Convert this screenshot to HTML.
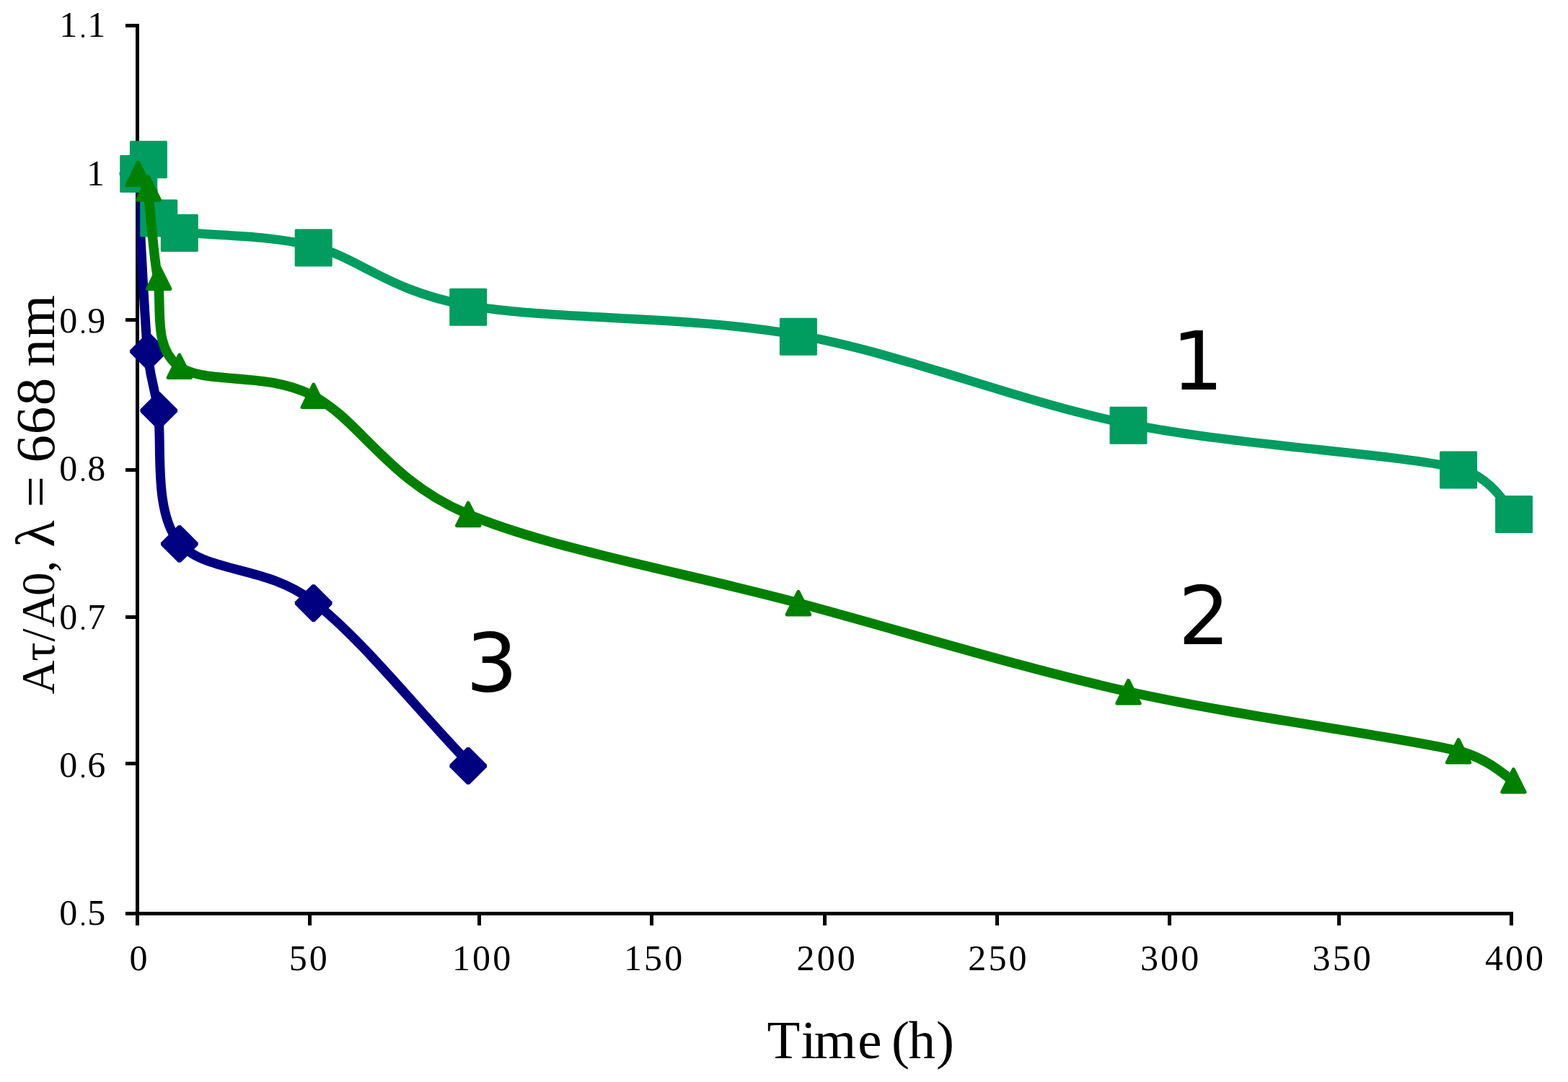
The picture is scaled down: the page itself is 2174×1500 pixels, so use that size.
<!DOCTYPE html>
<html lang="en"><head><meta charset="utf-8"><title>Aτ/A0 (λ = 668 nm) vs. Time (h)</title>
<style>html,body{margin:0;padding:0;background:#fff}body{width:2174px;height:1500px;overflow:hidden}svg{display:block}.t{font-family:"Liberation Serif","DejaVu Serif",serif;fill:#000}.n{font-family:"DejaVu Sans","Liberation Sans",sans-serif;fill:#000}</style></head><body>
<svg width="2174" height="1500" viewBox="0 0 2174 1500" role="img" aria-label="Line chart of Aτ/A0 at 668 nm versus time in hours for three samples">
<rect width="2174" height="1500" fill="#fff"/>
<g fill="#000" shape-rendering="crispEdges">
<rect x="188.0" y="33.0" width="5" height="1236.0"/>
<rect x="188.0" y="1264.0" width="1910.0" height="5"/>
<rect x="174" y="33.0" width="16" height="5"/>
<rect x="174" y="238.0" width="16" height="5"/>
<rect x="174" y="441.0" width="16" height="5"/>
<rect x="174" y="649.0" width="16" height="5"/>
<rect x="174" y="852.5" width="16" height="5"/>
<rect x="174" y="1056.0" width="16" height="5"/>
<rect x="174" y="1264.0" width="16" height="5"/>
<rect x="188.0" y="1266" width="5" height="17"/>
<rect x="426.8" y="1266" width="5" height="17"/>
<rect x="662.1" y="1266" width="5" height="17"/>
<rect x="901.0" y="1266" width="5" height="17"/>
<rect x="1141.1" y="1266" width="5" height="17"/>
<rect x="1380.0" y="1266" width="5" height="17"/>
<rect x="1619.1" y="1266" width="5" height="17"/>
<rect x="1853.9" y="1266" width="5" height="17"/>
<rect x="2093.0" y="1266" width="5" height="17"/>
</g>
<g class="t" font-size="50">
<text y="51.0"><tspan x="82.2">1</tspan><tspan x="110.5" dy="1.1" font-size="36">.</tspan><tspan x="121.2" dy="-1.1">1</tspan></text>
<text x="120" y="257.0">1</text>
<text y="461.3"><tspan x="82.2">0</tspan><tspan x="110.5" dy="1.1" font-size="36">.</tspan><tspan x="121.2" dy="-1.1">9</tspan></text>
<text y="666.3"><tspan x="82.2">0</tspan><tspan x="110.5" dy="1.1" font-size="36">.</tspan><tspan x="121.2" dy="-1.1">8</tspan></text>
<text y="872.3"><tspan x="82.2">0</tspan><tspan x="110.5" dy="1.1" font-size="36">.</tspan><tspan x="121.2" dy="-1.1">7</tspan></text>
<text y="1077.3"><tspan x="82.2">0</tspan><tspan x="110.5" dy="1.1" font-size="36">.</tspan><tspan x="121.2" dy="-1.1">6</tspan></text>
<text y="1282.3"><tspan x="82.2">0</tspan><tspan x="110.5" dy="1.1" font-size="36">.</tspan><tspan x="121.2" dy="-1.1">5</tspan></text>
<text x="179.5" y="1345.3" letter-spacing="3.1">0</text>
<text x="400.7" y="1345.3" letter-spacing="3.1">50</text>
<text x="627.0" y="1345.3" letter-spacing="3.1">100</text>
<text x="865.0" y="1345.3" letter-spacing="3.1">150</text>
<text x="1104.6" y="1345.3" letter-spacing="3.1">200</text>
<text x="1342.3" y="1345.3" letter-spacing="3.1">250</text>
<text x="1581.0" y="1345.3" letter-spacing="3.1">300</text>
<text x="1819.6" y="1345.3" letter-spacing="3.1">350</text>
<text x="2058.9" y="1345.3" letter-spacing="3.1">400</text>
</g>
<text class="t" x="1063.6 1110.8 1128.8 1189.3 1222 1236 1259.5 1298" y="1467" font-size="75">Time (h)</text>
<text class="t" transform="translate(75.2 965) rotate(-90)" font-size="77"><tspan font-size="65" x="2.4 48.2 75.6 95.3 138.9 171.7 188">Aτ/A0, </tspan><tspan x="206.3 245 261.6 305 323.6 362.7 402.8 441 456.5 496">λ = 668 nm</tspan></text>
<svg x="189.8" y="33" width="1912" height="1236" viewBox="189.8 33 1912 1236" overflow="hidden"><path d="M190.10 238.00 C194.87 320.08 199.63 429.52 204.40 484.24 C208.02 525.74 212.09 525.19 218.70 566.32 C225.85 610.78 211.55 706.54 247.30 751.00 C283.06 795.46 366.20 782.05 433.22 833.08 C500.24 884.11 577.36 982.49 649.43 1057.20" fill="none" stroke="#000080" stroke-width="13.0" stroke-linejoin="round" stroke-linecap="butt"/></svg>
<g fill="#000080">
<path d="M189.8 215.2L193.4 215.2L217.4 239.2L217.4 242.8L193.4 266.8L189.8 266.8L165.8 242.8L165.8 239.2Z"/>
<path d="M204.1 461.4L207.7 461.4L231.7 485.4L231.7 489.0L207.7 513.0L204.1 513.0L180.1 489.0L180.1 485.4Z"/>
<path d="M218.4 543.5L222.0 543.5L246.0 567.5L246.0 571.1L222.0 595.1L218.4 595.1L194.4 571.1L194.4 567.5Z"/>
<path d="M247.0 728.2L250.6 728.2L274.6 752.2L274.6 755.8L250.6 779.8L247.0 779.8L223.0 755.8L223.0 752.2Z"/>
<path d="M432.9 810.3L436.5 810.3L460.5 834.3L460.5 837.9L436.5 861.9L432.9 861.9L408.9 837.9L408.9 834.3Z"/>
<path d="M647.4 1036.0L651.0 1036.0L675.0 1060.0L675.0 1063.6L651.0 1087.6L647.4 1087.6L623.4 1063.6L623.4 1060.0Z"/>
</g>
<svg x="189.8" y="33" width="1912" height="1236" viewBox="189.8 33 1912 1236" overflow="hidden"><path d="M190.60 238.60 C195.37 231.76 200.13 207.82 204.90 218.08 C209.67 228.34 212.05 283.06 219.20 300.16 C225.99 316.40 230.52 317.37 247.80 320.68 C283.56 327.52 366.98 324.10 433.72 341.20 C500.45 358.30 536.21 402.76 648.23 423.28 C760.26 443.80 953.32 436.96 1105.86 464.32 C1258.41 491.68 1410.95 556.66 1563.50 587.44 C1716.04 618.22 1932.14 628.48 2021.13 649.00 C2068.88 660.01 2090.58 705.05 2097.40 710.56" fill="none" stroke="#009C60" stroke-width="12.7" stroke-linejoin="round" stroke-linecap="butt"/></svg>
<g fill="#009C60">
<rect x="166.2" y="215.0" width="52" height="52" rx="1.5"/>
<rect x="179.9" y="195.2" width="52" height="52" rx="1.5"/>
<rect x="194.2" y="276.6" width="52" height="52" rx="1.5"/>
<rect x="222.8" y="297.1" width="52" height="52" rx="1.5"/>
<rect x="408.7" y="317.6" width="52" height="52" rx="1.5"/>
<rect x="623.2" y="399.7" width="52" height="52" rx="1.5"/>
<rect x="1080.9" y="440.7" width="52" height="52" rx="1.5"/>
<rect x="1538.5" y="563.8" width="52" height="52" rx="1.5"/>
<rect x="1996.1" y="625.4" width="52" height="52" rx="1.5"/>
<rect x="2073.1" y="687.0" width="52" height="52" rx="1.5"/>
</g>
<svg x="189.8" y="33" width="1912" height="1236" viewBox="189.8 33 1912 1236" overflow="hidden"><path d="M189.80 240.30 C191.02 242.05 201.66 248.55 204.10 260.82 C208.87 284.76 211.25 342.90 218.40 383.94 C225.55 424.98 211.25 479.70 247.00 507.06 C282.76 534.42 366.18 513.90 432.92 548.10 C499.65 582.30 535.41 664.38 647.43 712.26 C759.46 760.14 952.52 794.34 1105.06 835.38 C1257.61 876.42 1410.15 924.30 1562.70 958.50 C1715.24 992.70 1931.34 1020.06 2020.33 1040.58 C2062.53 1050.31 2090.57 1078.38 2096.60 1081.62" fill="none" stroke="#008000" stroke-width="13.4" stroke-linejoin="round" stroke-linecap="butt"/></svg>
<g fill="#008000" stroke="#008000" stroke-width="5.0" stroke-linejoin="round">
<path d="M191.6 225.2L207.3 256.8L175.9 256.8Z"/>
<path d="M205.9 245.7L221.6 277.3L190.2 277.3Z"/>
<path d="M220.2 368.8L235.9 400.4L204.5 400.4Z"/>
<path d="M248.8 492.0L264.5 523.6L233.1 523.6Z"/>
<path d="M434.7 533.0L450.4 564.6L419.0 564.6Z"/>
<path d="M649.2 697.2L664.9 728.8L633.5 728.8Z"/>
<path d="M1106.9 820.3L1122.6 851.9L1091.2 851.9Z"/>
<path d="M1564.5 943.4L1580.2 975.0L1548.8 975.0Z"/>
<path d="M2022.1 1025.5L2037.8 1057.1L2006.4 1057.1Z"/>
<path d="M2098.4 1066.5L2114.1 1098.1L2082.7 1098.1Z"/>
</g>
<g class="n" font-size="113">
<text x="1660.5" y="540" text-anchor="middle">1</text>
<text x="1669.5" y="893" text-anchor="middle">2</text>
<text x="682" y="958" text-anchor="middle">3</text>
</g>
</svg></body></html>
